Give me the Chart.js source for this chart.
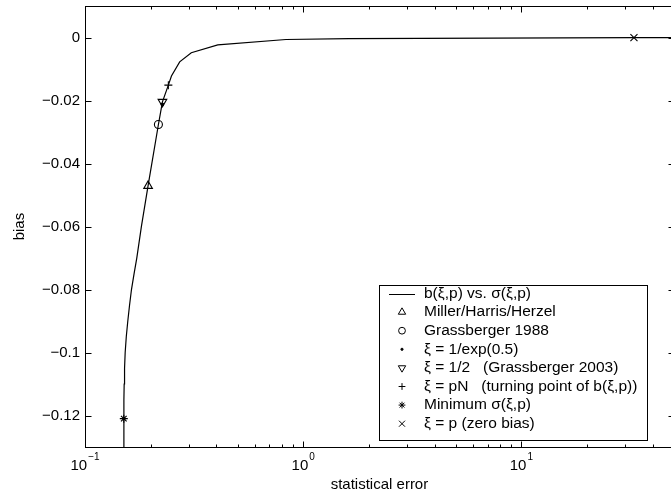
<!DOCTYPE html>
<html>
<head>
<meta charset="utf-8">
<title>bias vs. statistical error</title>
<script src="https://cdn.jsdelivr.net/npm/chart.js@4/dist/chart.umd.min.js"></script>
<style>
    html, body { margin: 0; padding: 0; background: #fff; overflow: hidden; }
    #wrap { width: 671px; height: 497px; overflow: hidden; }
</style>
</head>
<body>
<div id="wrap"><canvas id="chart" width="680" height="497"></canvas></div>
<script>
// curva b(xi,p) frente a sigma(xi,p)
const curveSigma = [0.1505, 0.1506, 0.1509, 0.1512, 0.1518, 0.1528, 0.1546, 0.1571, 0.1600, 0.1633, 0.1678, 0.1727, 0.1813, 0.1946, 0.217, 0.2264, 0.241, 0.249, 0.2716, 0.307, 0.406, 0.834, 1.62, 32.8, 50];
const curveBias  = [-0.13, -0.121, -0.115, -0.11, -0.105, -0.10, -0.095, -0.09, -0.085, -0.08, -0.075, -0.07, -0.06, -0.047, -0.0276, -0.0204, -0.0151, -0.0122, -0.0077, -0.0048, -0.0023, -0.0006, -0.0003, 0, 0];

// marcadores (mismo orden que la leyenda)
const markerLabels = [
    'Miller/Harris/Herzel',
    'Grassberger 1988',
    'ξ = 1/exp(0.5)',
    'ξ = 1/2   (Grassberger 2003)',
    'ξ = pN   (turning point of b(ξ,p))',
    'Minimum σ(ξ,p)',
    'ξ = p (zero bias)'
];
const markerSigma = [0.1946, 0.217, 0.2262, 0.2264, 0.241, 0.1506, 32.8];
const markerBias  = [-0.0471, -0.0276, -0.0212, -0.0204, -0.0151, -0.121, 0];

const lineLabel = 'b(ξ,p) vs. σ(ξ,p)';

// ejes
const xMajorTicks = [0.1, 1, 10];
const xTickExponents = ['−1', '0', '1'];
const yTickValues = [-0.12, -0.1, -0.08, -0.06, -0.04, -0.02, 0];
const yTickLabels = ['−0.12', '−0.1', '−0.08', '−0.06', '−0.04', '−0.02', '0'];

const FONT = "'Liberation Sans', Arial, Helvetica, sans-serif";

// estilos de los marcadores
const markerStyles = [
    { pointStyle: 'triangle', radius: 5, rotation: 0, fill: false },
    { pointStyle: 'circle', radius: 4, rotation: 0, fill: false },
    { pointStyle: 'circle', radius: 1.3, rotation: 0, fill: true },
    { pointStyle: 'triangle', radius: 5, rotation: 180, fill: false },
    { pointStyle: 'cross', radius: 4, rotation: 0, fill: false },
    { pointStyle: 'star', radius: 4, rotation: 0, fill: false },
    { pointStyle: 'crossRot', radius: 5, rotation: 0, fill: false }
];

const datasets = [{
    label: lineLabel,
    data: curveSigma.map((x, i) => ({ x: x, y: curveBias[i] })),
    showLine: true,
    borderColor: '#000',
    borderWidth: 1.2,
    pointRadius: 0,
    tension: 0
}];

markerLabels.forEach((label, i) => {
    const st = markerStyles[i];
    datasets.push({
        label: label,
        data: [{ x: markerSigma[i], y: markerBias[i] }],
        showLine: false,
        pointStyle: st.pointStyle,
        pointRadius: st.radius,
        pointRotation: st.rotation,
        pointBorderColor: '#000',
        pointBackgroundColor: st.fill ? '#000' : 'rgba(0,0,0,0)',
        pointBorderWidth: 1.1
    });
});

// marco, marcas hacia dentro, etiquetas 10^n y leyenda
const matlabAxes = {
    id: 'matlabAxes',
    afterDraw(chart) {
        const ctx = chart.ctx;
        const area = chart.chartArea;
        const xs = chart.scales.x;
        const ys = chart.scales.y;
        ctx.save();
        ctx.strokeStyle = '#000';
        ctx.lineWidth = 1;

        const L = Math.round(area.left) + 0.5;
        const R = Math.round(area.right) + 0.5;
        const T = Math.round(area.top) + 0.5;
        const B = Math.round(area.bottom) + 0.5;
        ctx.strokeRect(L, T, R - L, B - T);

        ctx.beginPath();
        // marcas del eje y
        yTickValues.forEach(v => {
            const py = Math.round(ys.getPixelForValue(v)) + 0.5;
            ctx.moveTo(L, py); ctx.lineTo(L + 6, py);
            ctx.moveTo(R, py); ctx.lineTo(R - 6, py);
        });
        // marcas del eje x (mayores y menores)
        xMajorTicks.forEach(d => {
            for (let m = 1; m <= 9; m++) {
                const v = d * m;
                if (v > xs.max) break;
                const px = Math.round(xs.getPixelForValue(v)) + 0.5;
                const len = m === 1 ? 6 : 3;
                ctx.moveTo(px, B); ctx.lineTo(px, B - len);
                ctx.moveTo(px, T); ctx.lineTo(px, T + len);
            }
        });
        ctx.stroke();

        // etiquetas 10^n
        ctx.fillStyle = '#000';
        ctx.textBaseline = 'alphabetic';
        ctx.textAlign = 'left';
        xMajorTicks.forEach((v, i) => {
            const px = xs.getPixelForValue(v);
            ctx.font = '15px ' + FONT;
            const wBase = ctx.measureText('10').width;
            ctx.font = '10px ' + FONT;
            const wExp = ctx.measureText(xTickExponents[i]).width;
            const x0 = px - (wBase + wExp + 1) / 2;
            ctx.font = '15px ' + FONT;
            ctx.fillText('10', x0, 469.5);
            ctx.font = '10px ' + FONT;
            ctx.fillText(xTickExponents[i], x0 + wBase + 1, 460);
        });

        // leyenda
        const box = { left: 379, top: 285, width: 268, height: 155 };
        ctx.fillStyle = '#fff';
        ctx.fillRect(box.left, box.top, box.width, box.height);
        ctx.strokeRect(box.left + 0.5, box.top + 0.5, box.width, box.height);
        const symX = 402;
        const textX = 424;
        const row0 = 293.5;
        const rowH = 18.6;
        ctx.font = '15.5px ' + FONT;
        ctx.textBaseline = 'middle';
        chart.data.datasets.forEach((ds, i) => {
            const y = row0 + i * rowH;
            ctx.strokeStyle = '#000';
            ctx.lineWidth = 1;
            if (i === 0) {
                ctx.beginPath();
                ctx.moveTo(389, Math.round(y) + 0.5);
                ctx.lineTo(415, Math.round(y) + 0.5);
                ctx.stroke();
            } else {
                const st = markerStyles[i - 1];
                ctx.fillStyle = st.fill ? '#000' : 'rgba(0,0,0,0)';
                Chart.helpers.drawPoint(ctx, {
                    pointStyle: st.pointStyle,
                    radius: st.radius * 0.85,
                    rotation: st.rotation,
                    borderWidth: 1
                }, symX, y);
            }
            ctx.fillStyle = '#000';
            ctx.fillText(ds.label, textX, y);
        });
        ctx.restore();
    }
};

new Chart(document.getElementById('chart'), {
    type: 'scatter',
    data: { datasets: datasets },
    options: {
        responsive: false,
        animation: false,
        layout: { padding: { top: 6, right: 4, left: 0, bottom: 0 } },
        plugins: {
            legend: { display: false },
            tooltip: { enabled: false }
        },
        scales: {
            x: {
                type: 'logarithmic',
                min: 0.1,
                max: 50,
                grid: { display: false, drawTicks: false },
                border: { display: false },
                ticks: { display: false },
                afterBuildTicks: scale => { scale.ticks = xMajorTicks.map(v => ({ value: v })); },
                afterFit: scale => {
                    scale.height = 50;
                    scale.paddingLeft = 0;
                    scale.paddingRight = 0;
                },
                title: {
                    display: true,
                    text: 'statistical error',
                    color: '#000',
                    font: { family: FONT, size: 15 },
                    padding: { top: 0, bottom: 3 }
                }
            },
            y: {
                min: -0.13,
                max: 0.01,
                grid: { display: false, drawTicks: false },
                border: { display: false },
                ticks: {
                    color: '#000',
                    font: { family: FONT, size: 15 },
                    padding: 5,
                    callback: (v, i) => yTickLabels[i]
                },
                afterBuildTicks: scale => { scale.ticks = yTickValues.map(v => ({ value: v })); },
                afterFit: scale => {
                    scale.width = 85;
                    scale.paddingTop = 0;
                    scale.paddingBottom = 0;
                },
                title: {
                    display: true,
                    text: 'bias',
                    color: '#000',
                    font: { family: FONT, size: 15 },
                    padding: { top: 11, bottom: 0 }
                }
            }
        }
    },
    plugins: [matlabAxes]
});
</script>
</body>
</html>
